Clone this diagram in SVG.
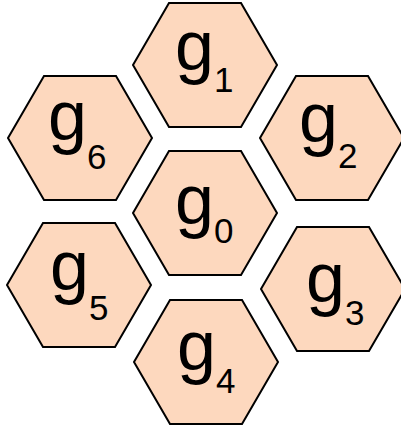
<svg xmlns="http://www.w3.org/2000/svg" width="401" height="429" viewBox="0 0 401 429">
<defs>
<style>
.hex{fill:#FDD8BE;stroke:#000;stroke-width:2;stroke-linejoin:miter}
.g{font-family:"Liberation Sans",Arial,sans-serif;font-size:70px;fill:#000}
.s{font-family:"Liberation Sans",Arial,sans-serif;font-size:35px;fill:#000}
</style>
<polygon id="hexshape" points="-72,0 -36,-62 36,-62 72,0 36,62 -36,62"/>
</defs>
<rect width="401" height="429" fill="#fff"/>
<g id="connectors"/>
<g id="g0">
<use href="#hexshape" class="hex" x="205" y="213"/>
<text class="g" x="175" y="224">g</text><text class="s" x="214" y="243">0</text>
</g>
<g id="g1">
<use href="#hexshape" class="hex" x="205" y="65"/>
<text class="g" x="175" y="70">g</text><text class="s" x="214" y="92">1</text>
</g>
<g id="g2">
<use href="#hexshape" class="hex" x="332" y="138"/>
<text class="g" x="299" y="142">g</text><text class="s" x="338" y="168">2</text>
</g>
<g id="g3">
<use href="#hexshape" class="hex" x="333" y="289"/>
<text class="g" x="306" y="302">g</text><text class="s" x="345" y="325">3</text>
</g>
<g id="g4">
<use href="#hexshape" class="hex" x="206" y="362"/>
<text class="g" x="177" y="370">g</text><text class="s" x="216" y="393">4</text>
</g>
<g id="g5">
<use href="#hexshape" class="hex" x="79" y="285"/>
<text class="g" x="50" y="290">g</text><text class="s" x="89" y="320">5</text>
</g>
<g id="g6">
<use href="#hexshape" class="hex" x="80" y="138"/>
<text class="g" x="48" y="140">g</text><text class="s" x="87" y="169">6</text>
</g>
</svg>
